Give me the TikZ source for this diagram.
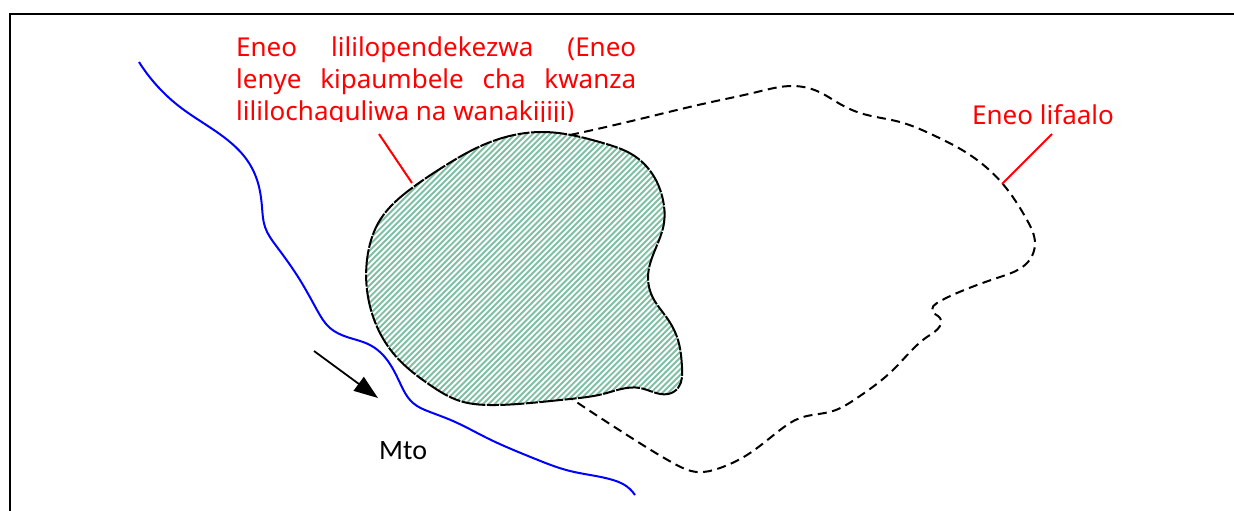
\documentclass[tikz,border=0pt]{standalone}
\usepackage{fontspec}
\setmainfont{Noto Sans}
\newfontfamily\mtofont{Carlito}
\usetikzlibrary{arrows.meta,hobby}
\definecolor{hatchgreen}{HTML}{7FBFA3}
\tikzset{
  redlabel/.style={text=red,inner sep=0pt,font=\fontsize{26}{32}\selectfont},
  redlead/.style={draw=red,line width=2pt},
  river/.style={draw=blue,line width=2pt},
  outline/.style={draw=black,line width=2pt,dash pattern=on 9pt off 5.5pt},
  prefarea/.style={draw=black,line width=2pt,dash pattern=on 24pt off 1.5pt on 12pt off 1.5pt},
  hatchline/.style={draw=hatchgreen,line width=1.9pt},
  framebar/.style={draw=black,line width=2pt},
  flow/.style={draw=black,line width=1.8pt,-{Triangle[length=24pt,width=17pt]}}
}
\def\prefpath{plot[closed hobby] coordinates {(543,132)(603,143)(633,155)(653,175)(663,200)(664,223)(655,250)(648,277)(653,298)(667,318)(678,340)(682,367)(678,388)(668,394)(640,388)(603,394)(570,399)(530,403)(490,405)(460,401)(430,385)(393,353)(375,322)(367,290)(368,253)(380,220)(412,188)(443,167)(483,145)}}
\begin{document}
\begin{tikzpicture}[x=1pt,y=-1pt]
\useasboundingbox (0,0) rectangle (1234,511);
\fill[white] (0,0) rectangle (1234,511);
% frame
\coordinate (fa) at (10,511);
\coordinate (fb) at (10,14);
\coordinate (fc) at (1234,14);
\draw[framebar] (fa) -- (fb) -- (fc);
% river
\draw[river] plot[hobby] coordinates {(139,62)(180,107)(230,142)(247,160)(258,183)(262,207)(265,227)(277,247)(300,280)(317,310)(330,328)(347,337)(370,345)(383,355)(400,383)(413,403)(430,412)(453,421)(487,438)(533,458)(570,471)(613,480)(623,484)(635,495)};
% hatch
\begin{scope}
\clip \prefpath;
\foreach \k in {0,...,120}{\draw[hatchline] ({90+\k*5.8},420) -- ({90+\k*5.8+300},120);}
\end{scope}
% outer dashed
\draw[outline] plot[hobby] coordinates {(570,135)(640,119)(707,103)(757,92)(793,86)(817,91)(840,104)(860,113)(900,122)(933,135)(967,153)(1002,183)(1027,220)(1035,243)(1028,262)(1000,277)(957,293)(937,303)(932,310)(940,318)(930,335)(893,370)(857,398)(833,411)(800,418)(780,430)(747,455)(720,468)(697,472)(673,463)(627,435)(593,413)(572,399)};
\draw[prefarea] \prefpath;
% labels
\begin{scope}
\clip (225,20) rectangle (645,121);
\node[redlabel,anchor=north west,align=left] (pref) at (236,36.5) {\makebox[400pt][s]{Eneo lililopendekezwa (Eneo}\\\makebox[400pt][s]{lenye kipaumbele cha kwanza}\\lililochaguliwa na wanakijiji)};
\end{scope}
\node[redlabel,anchor=base west] (lif) at (972,124) {Eneo lifaalo};
\node[anchor=base west,inner sep=0pt,font=\mtofont\fontsize{28}{30}\selectfont] (mto) at (379,459) {Mto};
% leaders
\coordinate (pa) at (379,134);
\coordinate (pb) at (412,183);
\coordinate (la) at (1052,134);
\coordinate (lb) at (1002,184);
\draw[redlead] (pa) -- (pb);
\draw[redlead] (la) -- (lb);
% flow arrow
\coordinate (fs) at (314,351);
\coordinate (ft) at (378,398);
\draw[flow] (fs) -- (ft);
\end{tikzpicture}
\end{document}
